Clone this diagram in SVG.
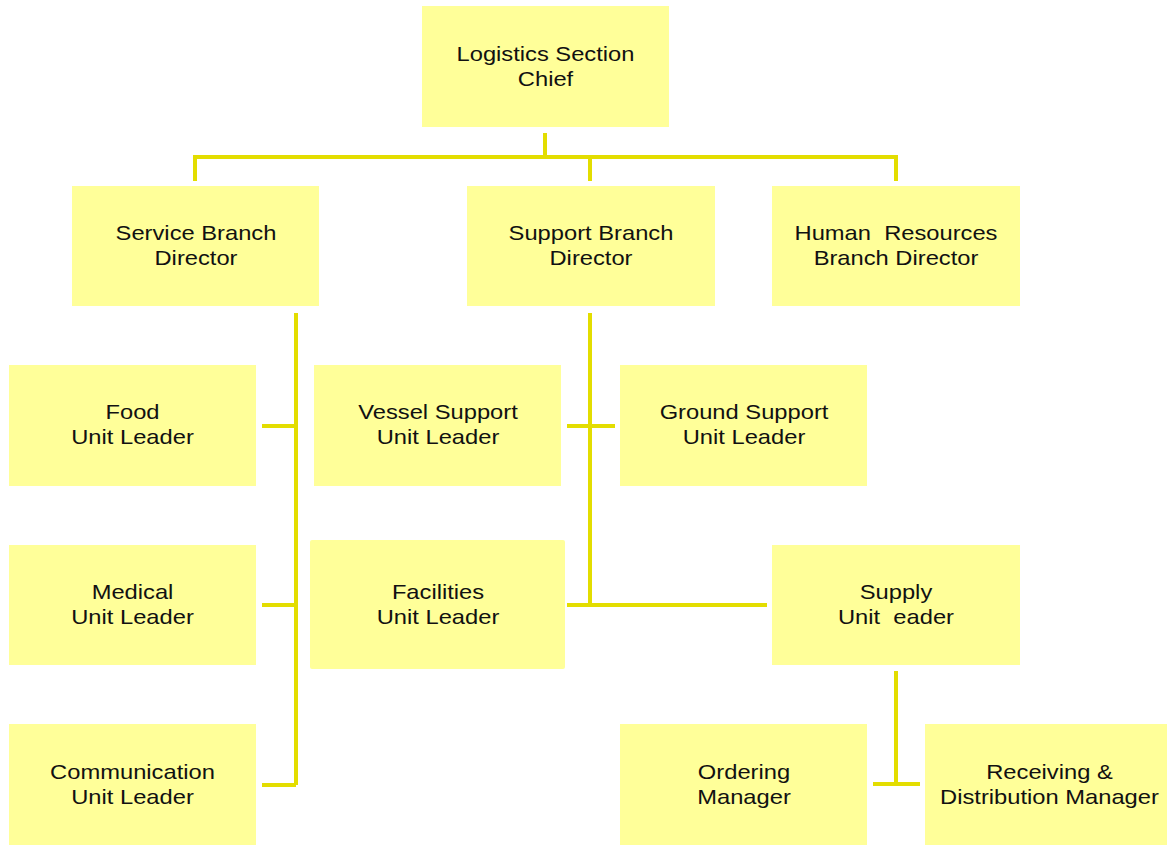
<svg xmlns="http://www.w3.org/2000/svg" width="1167" height="846" viewBox="0 0 1167 846">
  <style>
    .box { fill: #FFFF99; }
    .lbl { font-family: "Liberation Sans", Arial, sans-serif; font-size: 21px; fill: #111; text-anchor: middle; white-space: pre; }
    .wire { stroke: #E3DD00; stroke-width: 4; fill: none; }
  </style>
  <rect width="1167" height="846" fill="#FFFFFF"/>

  <g id="connectors">
    <path class="wire" d="M545,133 V157 M195,181 V157 H896 V181 M590,157 V181"/>
    <path class="wire" d="M296,313 V785 M262,426 H296 M262,605 H296 M262,785 H296"/>
    <path class="wire" d="M590,313 V605 M567,426 H615 M567,605 H767"/>
    <path class="wire" d="M896,671 V784 M873,784 H920"/>
  </g>

  <!-- labels are set in a slightly widened sans: each label group is shifted to the box centre and stretched 1.13x -->
  <g id="logistics-chief">
    <rect class="box" x="422" y="6" width="247" height="121"/>
    <g transform="translate(545.5 0) scale(1.13 1)">
      <text class="lbl" x="0" y="61">Logistics Section</text>
      <text class="lbl" x="0" y="86">Chief</text>
    </g>
  </g>
  <g id="service-branch">
    <rect class="box" x="72" y="186" width="247" height="120"/>
    <g transform="translate(196 0) scale(1.13 1)">
      <text class="lbl" x="0" y="240">Service Branch</text>
      <text class="lbl" x="0" y="265">Director</text>
    </g>
  </g>
  <g id="support-branch">
    <rect class="box" x="467" y="186" width="248" height="120"/>
    <g transform="translate(591 0) scale(1.13 1)">
      <text class="lbl" x="0" y="240">Support Branch</text>
      <text class="lbl" x="0" y="265">Director</text>
    </g>
  </g>
  <g id="hr-branch">
    <rect class="box" x="772" y="186" width="248" height="120"/>
    <g transform="translate(896 0) scale(1.13 1)">
      <text class="lbl" x="0" y="240">Human  Resources</text>
      <text class="lbl" x="0" y="265">Branch Director</text>
    </g>
  </g>
  <g id="food-unit">
    <rect class="box" x="9" y="365" width="247" height="121"/>
    <g transform="translate(132.5 0) scale(1.13 1)">
      <text class="lbl" x="0" y="419">Food</text>
      <text class="lbl" x="0" y="444">Unit Leader</text>
    </g>
  </g>
  <g id="vessel-support-unit">
    <rect class="box" x="314" y="365" width="247" height="121"/>
    <g transform="translate(438 0) scale(1.13 1)">
      <text class="lbl" x="0" y="419">Vessel Support</text>
      <text class="lbl" x="0" y="444">Unit Leader</text>
    </g>
  </g>
  <g id="ground-support-unit">
    <rect class="box" x="620" y="365" width="247" height="121"/>
    <g transform="translate(744 0) scale(1.13 1)">
      <text class="lbl" x="0" y="419">Ground Support</text>
      <text class="lbl" x="0" y="444">Unit Leader</text>
    </g>
  </g>
  <g id="medical-unit">
    <rect class="box" x="9" y="545" width="247" height="120"/>
    <g transform="translate(132.5 0) scale(1.13 1)">
      <text class="lbl" x="0" y="599">Medical</text>
      <text class="lbl" x="0" y="624">Unit Leader</text>
    </g>
  </g>
  <g id="facilities-unit">
    <rect class="box" x="310" y="540" width="255" height="129" rx="2"/>
    <g transform="translate(438 0) scale(1.13 1)">
      <text class="lbl" x="0" y="599">Facilities</text>
      <text class="lbl" x="0" y="624">Unit Leader</text>
    </g>
  </g>
  <g id="supply-unit">
    <rect class="box" x="772" y="545" width="248" height="120"/>
    <g transform="translate(896 0) scale(1.13 1)">
      <text class="lbl" x="0" y="599">Supply</text>
      <text class="lbl" x="0" y="624">Unit  eader</text>
    </g>
  </g>
  <g id="communication-unit">
    <rect class="box" x="9" y="724" width="247" height="121"/>
    <g transform="translate(132.5 0) scale(1.13 1)">
      <text class="lbl" x="0" y="779">Communication</text>
      <text class="lbl" x="0" y="804">Unit Leader</text>
    </g>
  </g>
  <g id="ordering-manager">
    <rect class="box" x="620" y="724" width="247" height="121"/>
    <g transform="translate(744 0) scale(1.13 1)">
      <text class="lbl" x="0" y="779">Ordering</text>
      <text class="lbl" x="0" y="804">Manager</text>
    </g>
  </g>
  <g id="receiving-distribution-manager">
    <rect class="box" x="925" y="724" width="242" height="121"/>
    <g transform="translate(1049.5 0) scale(1.13 1)">
      <text class="lbl" x="0" y="779">Receiving &amp;</text>
      <text class="lbl" x="0" y="804">Distribution Manager</text>
    </g>
  </g>
</svg>
